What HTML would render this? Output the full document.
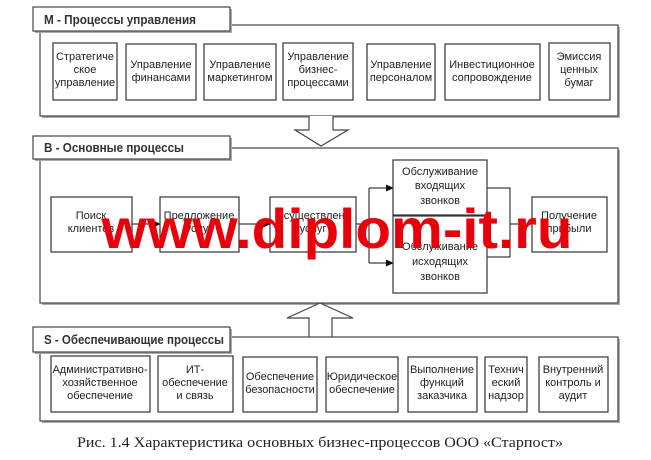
<!DOCTYPE html>
<html><head><meta charset="utf-8"><style>
html,body{margin:0;padding:0;background:#fff;width:651px;height:460px;overflow:hidden}
svg{display:block}
.t{font-family:"Liberation Sans",Arial,sans-serif;font-size:11px;fill:#222;text-anchor:middle}
.l{font-family:"Liberation Sans",Arial,sans-serif;font-size:13px;font-weight:bold;fill:#333}
.b{fill:#fff;stroke:#333;stroke-width:1.2}
.f{fill:#fff;stroke:#444;stroke-width:1.2}
.s{fill:#aaa}
</style></head><body>
<svg width="651" height="460" viewBox="0 0 651 460" xmlns="http://www.w3.org/2000/svg">
<defs><marker id="a" markerWidth="8" markerHeight="8" refX="7" refY="4" orient="auto" markerUnits="userSpaceOnUse"><path d="M0,0.5 L8,4 L0,7.5z" fill="#111"/></marker></defs>

<!-- M -->
<rect class="s" x="42" y="27" width="578" height="91"/>
<rect class="f" x="40" y="25" width="578" height="91"/>
<rect class="s" x="35" y="9" width="197" height="24"/>
<rect class="f" x="33" y="7" width="197" height="24"/>
<text class="l" x="44" y="24" textLength="152" lengthAdjust="spacingAndGlyphs">M - Процессы управления</text>
<rect class="b" x="53" y="43" width="64" height="57"/>
<text class="t" x="85" y="60">Стратегиче</text><text class="t" x="85" y="73">ское</text><text class="t" x="85" y="86">управление</text>
<rect class="b" x="126" y="44" width="70" height="56"/>
<text class="t" x="161" y="68">Управление</text><text class="t" x="161" y="81">финансами</text>
<rect class="b" x="204" y="44" width="72" height="56"/>
<text class="t" x="240" y="68">Управление</text><text class="t" x="240" y="81">маркетингом</text>
<rect class="b" x="283" y="43" width="70" height="57"/>
<text class="t" x="318" y="60">Управление</text><text class="t" x="318" y="73">бизнес-</text><text class="t" x="318" y="86">процессами</text>
<rect class="b" x="367" y="44" width="68" height="56"/>
<text class="t" x="401" y="68">Управление</text><text class="t" x="401" y="81">персоналом</text>
<rect class="b" x="445" y="44" width="95" height="56"/>
<text class="t" x="492" y="68">Инвестиционное</text><text class="t" x="492" y="81">сопровождение</text>
<rect class="b" x="549" y="43" width="61" height="57"/>
<text class="t" x="579" y="60">Эмиссия</text><text class="t" x="579" y="73">ценных</text><text class="t" x="579" y="86">бумаг</text>

<!-- down arrow -->
<path d="M309,116 L309,130 L295,130 L321,146 L348,130 L333,130 L333,116" fill="#fff" stroke="#444" stroke-width="1.2"/>

<!-- B -->
<rect class="s" x="42" y="150" width="578" height="155"/>
<rect class="f" x="40" y="148" width="578" height="155"/>
<rect class="s" x="35" y="138" width="197" height="23"/>
<rect class="f" x="33" y="136" width="197" height="23"/>
<text class="l" x="44" y="152" textLength="140" lengthAdjust="spacingAndGlyphs">B - Основные процессы</text>
<line x1="132" y1="224" x2="160" y2="224" stroke="#111" marker-end="url(#a)"/>
<line x1="239" y1="224" x2="270" y2="224" stroke="#111" marker-end="url(#a)"/>
<path d="M356,224 H369 M369,188 V263" stroke="#111" fill="none"/>
<line x1="369" y1="188" x2="393" y2="188" stroke="#111" marker-end="url(#a)"/>
<line x1="369" y1="263" x2="393" y2="263" stroke="#111" marker-end="url(#a)"/>
<path d="M487,188 H510 V257 H487 M510,224 H532" stroke="#111" fill="none"/>
<rect class="b" x="51" y="197" width="81" height="55"/>
<text class="t" x="91" y="219">Поиск</text><text class="t" x="91" y="232">клиентов</text>
<rect class="b" x="160" y="197" width="79" height="55"/>
<text class="t" x="199" y="219">Предложение</text><text class="t" x="199" y="232">услуг</text>
<rect class="b" x="270" y="197" width="86" height="55"/>
<text class="t" x="313" y="219">Осуществлени</text><text class="t" x="313" y="232">услуг</text>
<rect class="b" x="393" y="160" width="94" height="55"/>
<text class="t" x="440" y="175">Обслуживание</text><text class="t" x="440" y="189">входящих</text><text class="t" x="440" y="204">звонков</text>
<rect class="b" x="393" y="216" width="94" height="77"/>
<text class="t" x="440" y="250">Обслуживание</text><text class="t" x="440" y="265">исходящих</text><text class="t" x="440" y="280">звонков</text>
<rect class="b" x="532" y="197" width="75" height="55"/>
<text class="t" x="569" y="219">Получение</text><text class="t" x="569" y="232">прибыли</text>
<text x="337" y="248" text-anchor="middle" textLength="471" lengthAdjust="spacingAndGlyphs" style="font-family:'Liberation Sans',Arial,sans-serif;font-size:56px;font-weight:bold;fill:#e8000b">www.diplom-it.ru</text>

<!-- up arrow -->
<path d="M309,337 L309,318 L287,318 L320,303 L353,318 L332,318 L332,337" fill="#fff" stroke="#444" stroke-width="1.2"/>

<!-- S -->
<rect class="s" x="42" y="339" width="578" height="84"/>
<rect class="f" x="40" y="337" width="578" height="84"/>
<rect class="s" x="35" y="329" width="197" height="25"/>
<rect class="f" x="33" y="327" width="197" height="25"/>
<text class="l" x="44" y="344" textLength="180" lengthAdjust="spacingAndGlyphs">S - Обеспечивающие процессы</text>
<rect class="b" x="51" y="356" width="99" height="56"/>
<text class="t" x="100" y="373">Административно-</text><text class="t" x="100" y="386">хозяйственное</text><text class="t" x="100" y="399">обеспечение</text>
<rect class="b" x="158" y="356" width="75" height="56"/>
<text class="t" x="195" y="373">ИТ-</text><text class="t" x="195" y="386">обеспечение</text><text class="t" x="195" y="399">и связь</text>
<rect class="b" x="243" y="357" width="74" height="55"/>
<text class="t" x="280" y="380">Обеспечение</text><text class="t" x="280" y="393">безопасности</text>
<rect class="b" x="326" y="357" width="72" height="55"/>
<text class="t" x="362" y="380">Юридическое</text><text class="t" x="362" y="393">обеспечение</text>
<rect class="b" x="408" y="357" width="69" height="55"/>
<text class="t" x="442" y="373">Выполнение</text><text class="t" x="442" y="386">функций</text><text class="t" x="442" y="399">заказчика</text>
<rect class="b" x="485" y="357" width="42" height="55"/>
<text class="t" x="506" y="373">Технич</text><text class="t" x="506" y="386">еский</text><text class="t" x="506" y="399">надзор</text>
<rect class="b" x="539" y="357" width="69" height="55"/>
<text class="t" x="573" y="373">Внутренний</text><text class="t" x="573" y="386">контроль и</text><text class="t" x="573" y="399">аудит</text>

<text x="320" y="447" text-anchor="middle" textLength="486" lengthAdjust="spacingAndGlyphs" style="font-family:'Liberation Serif','Times New Roman',serif;font-size:15px;fill:#222">Рис. 1.4 Характеристика основных бизнес-процессов ООО «Старпост»</text>
</svg>
</body></html>
